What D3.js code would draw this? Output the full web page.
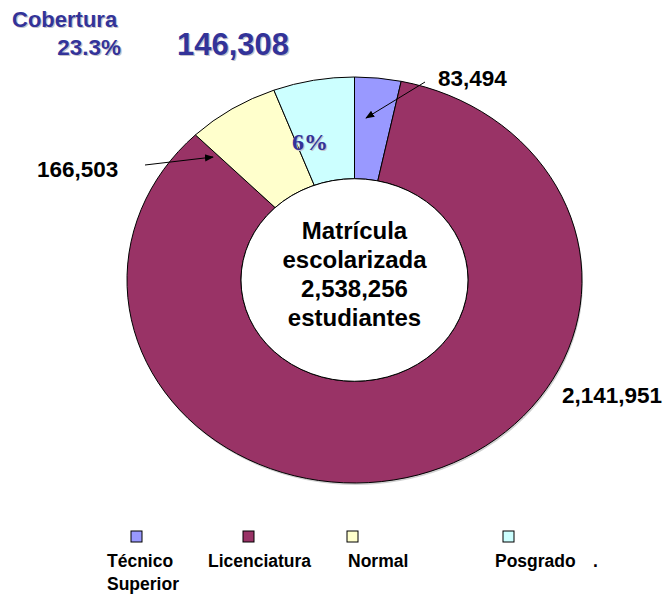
<!DOCTYPE html>
<html>
<head>
<meta charset="utf-8">
<title>Matrícula escolarizada</title>
<script src="https://cdn.jsdelivr.net/npm/d3@7"></script>
<style>
  body { margin: 0; background: #fff; }
  text { font-family: Arial, "Liberation Sans", sans-serif; font-weight: bold; }
</style>
</head>
<body>
<div id="chart"></div>
<script>
// data
var categories = ["Técnico Superior", "Licenciatura", "Normal", "Posgrado"];
var values = [83494, 2141951, 166503, 146308];
var colors = ["#9999FF", "#993366", "#FFFFCC", "#CCFFFF"];
var total = d3.sum(values);

var W = 668, H = 595;
var cx = 354.5, cy = 280, rx = 227.5, ry = 203, inner = 113.5;

var svg = d3.select("#chart").append("svg")
  .attr("width", W).attr("height", H);

var fmt = d3.format(",");

// shadow under the ring
svg.append("ellipse")
  .attr("cx", cx + 1).attr("cy", cy + 2)
  .attr("rx", rx).attr("ry", ry)
  .attr("fill", "#d0d0d0");

var pie = d3.pie().sort(null).value(function(d) { return d; });
var arc = d3.arc().innerRadius(inner).outerRadius(rx);

// circle drawn flattened into an ellipse
var g = svg.append("g")
  .attr("transform", "translate(" + cx + "," + cy + ") scale(1," + (ry / rx) + ")");

g.selectAll("path.slice")
  .data(pie(values))
  .enter().append("path")
  .attr("class", "slice")
  .attr("d", arc)
  .attr("fill", function(d, i) { return colors[i]; })
  .attr("stroke", "#000")
  .attr("stroke-width", 1)
  .attr("vector-effect", "non-scaling-stroke");

g.append("circle")
  .attr("r", inner)
  .attr("fill", "#fff")
  .attr("stroke", "#000")
  .attr("stroke-width", 1)
  .attr("vector-effect", "non-scaling-stroke");

// centre text
var centerLines = ["Matrícula", "escolarizada", fmt(total), "estudiantes"];
svg.selectAll("text.center")
  .data(centerLines)
  .enter().append("text")
  .attr("class", "center")
  .attr("x", cx)
  .attr("y", function(d, i) { return 239 + i * 29; })
  .attr("text-anchor", "middle")
  .attr("font-size", 24)
  .attr("fill", "#000")
  .text(function(d) { return d; });

// arrow marker
svg.append("defs").append("marker")
  .attr("id", "arr")
  .attr("viewBox", "0 0 10 10")
  .attr("refX", 9).attr("refY", 5)
  .attr("markerWidth", 9).attr("markerHeight", 9)
  .attr("markerUnits", "userSpaceOnUse")
  .attr("orient", "auto")
  .append("path").attr("d", "M0,1 L10,5 L0,9 Z").attr("fill", "#000");

// value labels
var labels = [
  { v: values[0], x: 438, y: 86, anchor: "start", ax1: 425, ay1: 82, ax2: 366, ay2: 118 },
  { v: values[1], x: 562, y: 403, anchor: "start" },
  { v: values[2], x: 37, y: 177, anchor: "start", ax1: 145, ay1: 165, ax2: 213, ay2: 157 }
];

labels.forEach(function(l) {
  svg.append("text")
    .attr("x", l.x).attr("y", l.y)
    .attr("text-anchor", l.anchor)
    .attr("font-size", 22.5)
    .attr("fill", "#000")
    .text(fmt(l.v));
  if (l.ax1 !== undefined) {
    svg.append("line")
      .attr("x1", l.ax1).attr("y1", l.ay1)
      .attr("x2", l.ax2).attr("y2", l.ay2)
      .attr("stroke", "#000").attr("stroke-width", 1)
      .attr("marker-end", "url(#arr)");
  }
});

// shadowed blue texts
function shadowText(str, x, y, size, anchor, family) {
  [["#c4c4cc", 1.2], ["#333399", 0]].forEach(function(p) {
    var t = svg.append("text")
      .attr("x", x + p[1]).attr("y", y + p[1])
      .attr("text-anchor", anchor)
      .attr("font-size", size)
      .attr("fill", p[0])
      .text(str);
    if (family) t.style("font-family", family);
  });
}

shadowText("Cobertura", 12, 27, 22, "start");
shadowText("23.3%", 121, 55, 22.5, "end");
shadowText(fmt(values[3]), 177, 55, 31, "start");
shadowText(Math.round(values[3] / total * 100) + "%", 310, 150, 24, "middle",
  "'Times New Roman', 'Liberation Serif', serif");

// legend
var legendSquareX = [131, 243, 347, 503];
var legendTextX = [107, 208, 348, 495];
var legend = svg.selectAll("g.legend")
  .data(categories)
  .enter().append("g")
  .attr("class", "legend");

legend.append("rect")
  .attr("x", function(d, i) { return legendSquareX[i]; })
  .attr("y", 531)
  .attr("width", 11).attr("height", 11)
  .attr("fill", function(d, i) { return colors[i]; })
  .attr("stroke", "#000").attr("stroke-width", 1);

legend.each(function(d, i) {
  var words = d.split(" ");
  var t = d3.select(this).append("text")
    .attr("x", legendTextX[i]).attr("y", 567)
    .attr("font-size", 17.5)
    .attr("fill", "#000");
  words.forEach(function(w, j) {
    t.append("tspan")
      .attr("x", legendTextX[i])
      .attr("dy", j === 0 ? 0 : 23)
      .text(w);
  });
});

svg.append("text")
  .attr("x", 593).attr("y", 567)
  .attr("font-size", 17.5)
  .attr("fill", "#000")
  .text(".");
</script>
</body>
</html>
